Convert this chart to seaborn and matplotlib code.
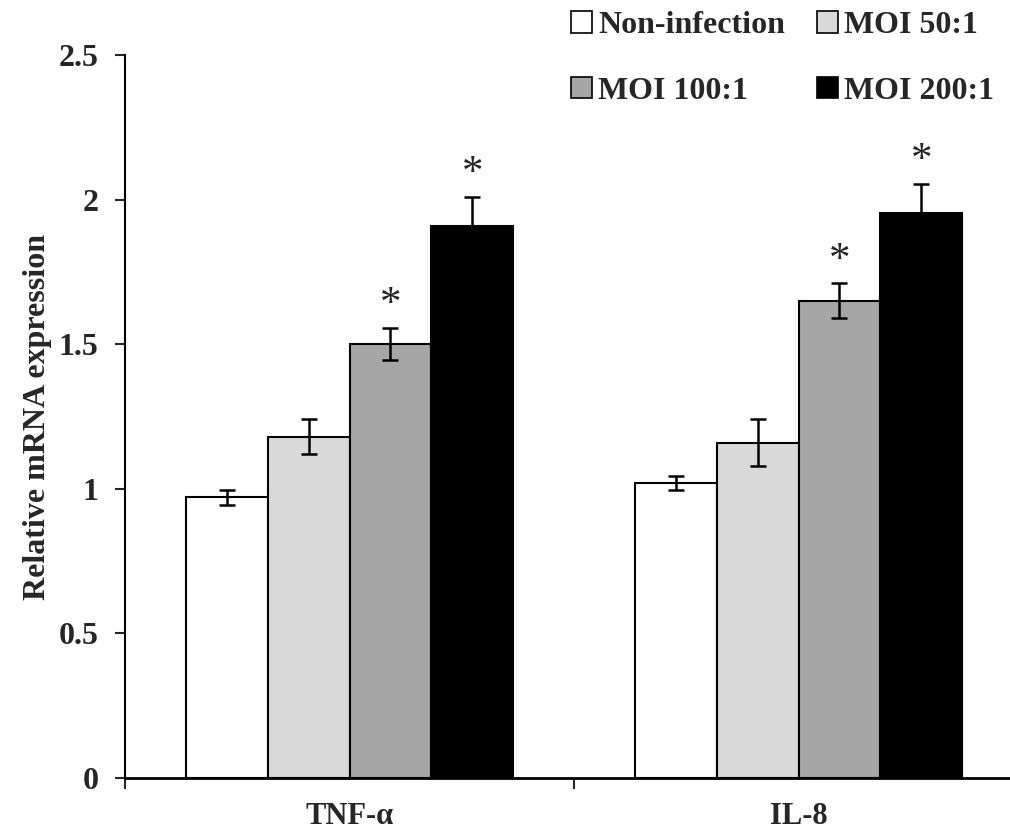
import matplotlib
matplotlib.use("Agg")
import matplotlib.pyplot as plt
import seaborn as sns
import pandas as pd
import numpy as np
from matplotlib.patches import Patch

genes = ["TNF-α", "IL-8"]
groups = ["Non-infection", "MOI 50:1", "MOI 100:1", "MOI 200:1"]
tnf_values = [0.97, 1.18, 1.50, 1.91]
tnf_errors = [0.025, 0.06, 0.055, 0.10]
il8_values = [1.02, 1.16, 1.65, 1.955]
il8_errors = [0.025, 0.08, 0.06, 0.10]
tnf_sig = [False, False, True, True]
il8_sig = [False, False, True, True]
colors = ["#ffffff", "#d9d9d9", "#a6a6a6", "#000000"]
yticks = [0, 0.5, 1, 1.5, 2, 2.5]
ytick_labels = ["0", "0.5", "1", "1.5", "2", "2.5"]

sns.set_theme(style="white")
plt.rcParams["font.family"] = ["Liberation Serif", "DejaVu Serif"]
plt.rcParams["font.weight"] = "bold"

df = pd.DataFrame({
    "gene": [genes[0]] * 4 + [genes[1]] * 4,
    "group": groups * 2,
    "value": tnf_values + il8_values,
    "err": tnf_errors + il8_errors,
    "sig": tnf_sig + il8_sig,
})

fig = plt.figure(figsize=(10.10, 8.32), dpi=100)
ax = fig.add_axes([125 / 1010, (832 - 778) / 832, (1023 - 125) / 1010, (778 - 55) / 832])

sns.barplot(data=df, x="gene", y="value", hue="group", order=genes, hue_order=groups,
            palette=colors, width=0.73, edgecolor="black", linewidth=1.5,
            errorbar=None, legend=False, ax=ax, saturation=1)

# error bars and significance stars
for gi, grp in enumerate(groups):
    cont = ax.containers[gi]
    for ci, gene in enumerate(genes):
        row = df[(df.gene == gene) & (df.group == grp)].iloc[0]
        bar = cont.patches[ci]
        xc = bar.get_x() + bar.get_width() / 2
        ax.errorbar(xc, row.value, yerr=row.err, fmt="none", ecolor="black",
                    elinewidth=1.8, capsize=6, capthick=1.8, zorder=5)
        if row.sig:
            ax.text(xc, row.value + row.err + 0.08, "*", ha="center", va="center",
                    fontsize=31, fontweight="normal")

ax.set_xlim(-0.5, 1.5)
ax.set_ylim(0, 2.5)
ax.set_yticks(yticks)
ax.set_yticklabels(ytick_labels, fontsize=23, fontweight="bold")
ax.set_xticks([-0.5, 0.5, 1.5])
ax.set_xticklabels(["", "", ""])
ax.set_xticks([0, 1], minor=True)
ax.set_xticklabels(genes, minor=True, fontsize=22, fontweight="bold")
ax.tick_params(axis="x", which="major", direction="out", length=8, width=1.5, bottom=True)
ax.tick_params(axis="x", which="minor", length=0, pad=17)
ax.tick_params(axis="y", direction="out", length=7, width=1.5, left=True, pad=12)
ax.set_xlabel("")
ax.set_ylabel("Relative mRNA expression", fontsize=23, fontweight="bold", labelpad=5)

for s in ["top", "right"]:
    ax.spines[s].set_visible(False)
ax.spines["left"].set_linewidth(1.5)
ax.spines["bottom"].set_linewidth(2)
ax.spines["left"].set_color("black")
ax.spines["bottom"].set_color("black")

order = [0, 2, 1, 3]
handles = [Patch(facecolor=colors[i], edgecolor="black", linewidth=1.2) for i in order]
labels = [groups[i] for i in order]
fig.legend(handles, labels, loc="upper left", bbox_to_anchor=(558 / 1010, 1.002),
           ncol=2, frameon=False, prop={"size": 23, "weight": "bold"},
           handlelength=0.65, handleheight=0.65, handletextpad=0.2,
           columnspacing=1.0, labelspacing=1.15, borderaxespad=0.0)

fig.savefig("out.png", dpi=100)
